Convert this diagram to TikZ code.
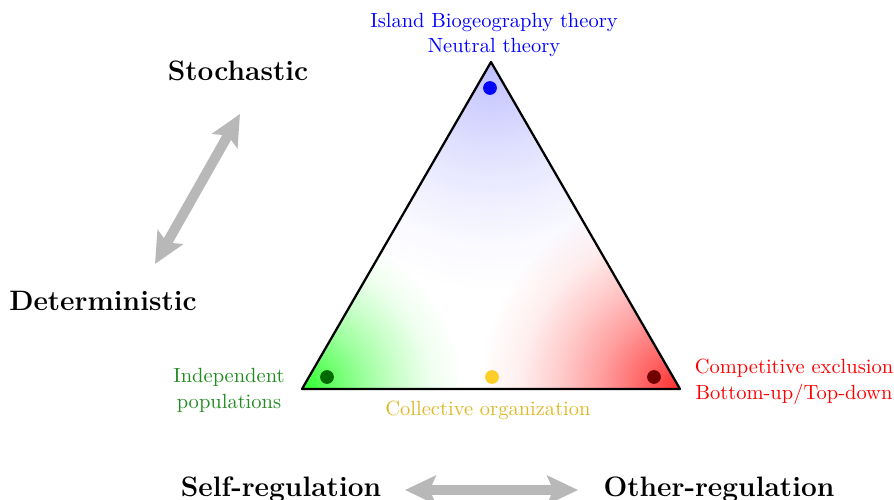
\documentclass[tikz,border=0pt]{standalone}
\usetikzlibrary{arrows.meta}
\definecolor{txtgreen}{RGB}{34,139,34}
\definecolor{txtgold}{RGB}{222,184,40}
\definecolor{dotgold}{RGB}{255,205,40}
\definecolor{dotgreen}{RGB}{0,105,0}
\definecolor{dotred}{RGB}{115,0,0}
\definecolor{glowblue}{RGB}{190,190,255}
\definecolor{glowgreen}{RGB}{45,255,45}
\definecolor{glowred}{RGB}{255,45,45}
\definecolor{arrowgray}{RGB}{184,184,184}
% radial glows with a soft fall-off: full colour at the centre, white at 25bp
\newcommand{\glowshading}[2]{%
  \pgfdeclareradialshading{#1}{\pgfpointorigin}{%
    color(0bp)=(#2); color(5bp)=(#2!72!white); color(10bp)=(#2!46!white);
    color(15bp)=(#2!25!white); color(20bp)=(#2!8!white); color(25bp)=(white)}}
\glowshading{blueglow}{glowblue}
\glowshading{greenglow}{glowgreen}
\glowshading{redglow}{glowred}
\begin{document}
\begin{tikzpicture}[x=0.4875pt,y=-0.4875pt,
  axislabel/.style={font=\fontsize{13.7}{16}\selectfont\bfseries, inner sep=0pt, anchor=base},
  theorylabel/.style={font=\fontsize{10}{12.2}\selectfont, inner sep=0pt, align=center, anchor=base},
  regdot/.style={circle, inner sep=0pt, minimum size=6.7pt},
  bigarrow/.style={draw=arrowgray, line width=4.9pt,
    {Stealth[length=15pt, width=14pt, inset=3pt]}-{Stealth[length=15pt, width=14pt, inset=3pt]}},
  triedge/.style={draw=black, line width=1.1pt, line join=round}]
\useasboundingbox (0,0) rectangle (894,500);

% corners of the triangle
\coordinate (L) at (302,389);
\coordinate (R) at (680,389);
\coordinate (T) at (491,62);

% coloured glows inside the triangle (scale = glow radius / 25bp),
% multiplied so that the white rims leave the other glows untouched
\begin{scope}
  \clip (L) -- (R) -- (T) -- cycle;
  \fill[white] (L) -- (R) -- (T) -- cycle;
  \begin{scope}[blend mode=multiply]
    \begin{scope}[shift={(T)}, scale=4.47]
      \pgflowlevelsynccm\pgfuseshading{blueglow}
    \end{scope}
    \begin{scope}[shift={(L)}, scale=3.11]
      \pgflowlevelsynccm\pgfuseshading{greenglow}
    \end{scope}
    \begin{scope}[shift={(R)}, scale=3.89]
      \pgflowlevelsynccm\pgfuseshading{redglow}
    \end{scope}
  \end{scope}
\end{scope}
\path[triedge] (L) -- (R) -- (T) -- cycle;

% regulation / stochasticity poles
\node[regdot, fill=blue] (dtop) at (490,88) {};
\node[regdot, fill=dotgreen] (dleft) at (327,377) {};
\node[regdot, fill=dotgold] (dmid) at (492,377) {};
\node[regdot, fill=dotred] (dright) at (654,377) {};

% labels of the poles (base anchor sits on the last line)
\node[theorylabel, text=blue] (ltop) at (494,53) {Island Biogeography theory\\Neutral theory};
\node[theorylabel, text=txtgreen] (lleft) at (229,408) {Independent\\populations};
\node[theorylabel, text=red] (lright) at (794,399) {Competitive exclusion\\Bottom-up/Top-down};
\node[theorylabel, text=txtgold] (lmid) at (488,415) {Collective organization};

% axis labels
\node[axislabel] (stoch) at (238,81) {Stochastic};
\node[axislabel] (determ) at (103,310) {Deterministic};
\node[axislabel] (selfreg) at (281,496) {Self-regulation};
\node[axislabel] (otherreg) at (719,496) {Other-regulation};

% double arrows between the axis ends
\coordinate (sd1) at (155,264);
\coordinate (sd2) at (240,114);
\coordinate (so1) at (405,490);
\coordinate (so2) at (578,490);
\path[bigarrow] (sd1) -- (sd2);
\path[bigarrow] (so1) -- (so2);
\end{tikzpicture}
\end{document}
